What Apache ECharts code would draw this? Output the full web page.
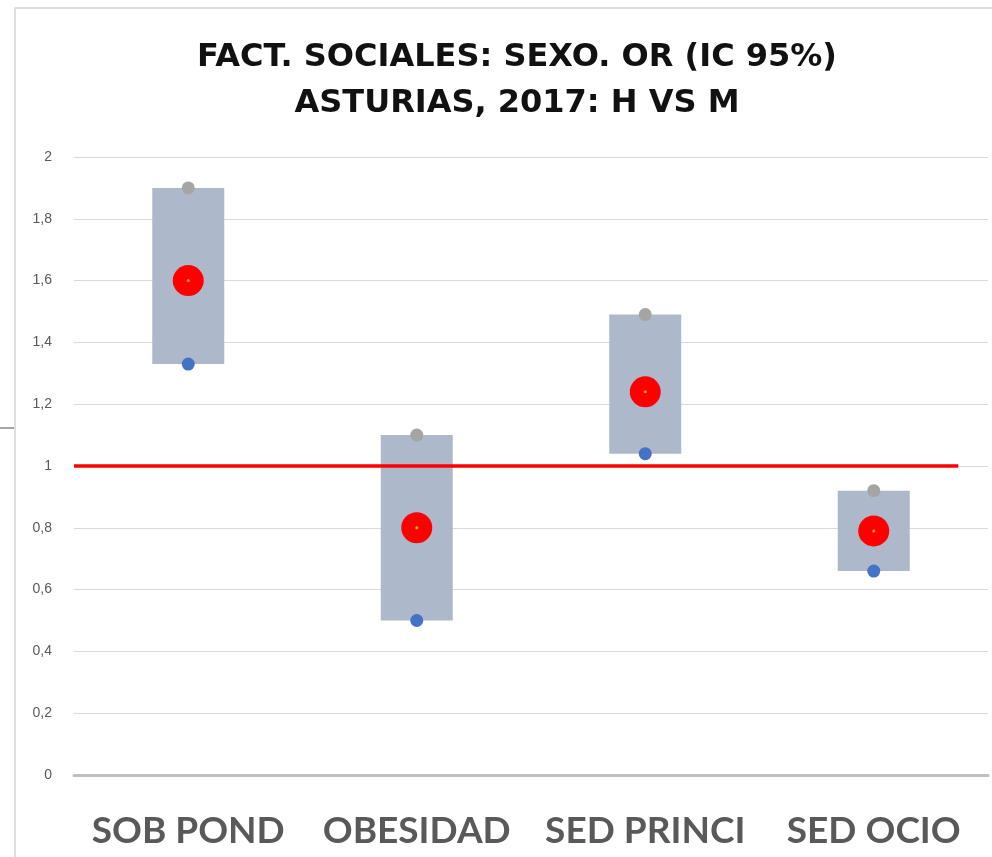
<!DOCTYPE html>
<html>
<head>
<meta charset="utf-8">
<script src="https://cdn.jsdelivr.net/npm/echarts@6/dist/echarts.min.js"></script>
<style>
  html, body { margin: 0; padding: 0; background: #fff; }
  #chart { width: 992px; height: 857px; }
</style>
</head>
<body>
<div id="chart"></div>
<script>
// datos del grafico
var categories = ['SOB POND', 'OBESIDAD', 'SED PRINCI', 'SED OCIO'];
var orValues = [1.60, 0.80, 1.24, 0.79];
var icLow = [1.33, 0.50, 1.04, 0.66];
var icHigh = [1.90, 1.10, 1.49, 0.92];
var refValue = 1;
var refLineEnd = 3.87; // fin de la linea roja (en unidades de categoria)

var rangeData = [];
for (var i = 0; i < categories.length; i++) {
    rangeData.push(+(icHigh[i] - icLow[i]).toFixed(3));
}

var chart = echarts.init(document.getElementById('chart'));
var option = {
    animation: false,
    backgroundColor: '#fff',
    title: {
        text: 'FACT. SOCIALES: SEXO. OR (IC 95%)\nASTURIAS, 2017: H VS M',
        left: 512,
        textAlign: 'center',
        top: 30,
        textStyle: {
            fontFamily: 'DejaVu Sans',
            fontWeight: 'bold',
            fontSize: 32,
            lineHeight: 46,
            color: '#111'
        }
    },
    graphic: [
        {
            type: 'polyline',
            shape: { points: [[15, 857], [15, 8], [992, 8]] },
            style: { stroke: '#d4d4d4', lineWidth: 1.5, fill: null },
            silent: true
        },
        {
            type: 'line',
            shape: { x1: 0, y1: 428, x2: 14, y2: 428 },
            style: { stroke: '#888', lineWidth: 1.5 },
            silent: true
        }
    ],
    grid: { left: 74, right: 4, top: 157, bottom: 82 },
    xAxis: [
        {
            type: 'category',
            data: categories,
            boundaryGap: true,
            axisTick: { show: false },
            axisLine: { show: true, lineStyle: { color: '#bfbfbf', width: 3 } },
            axisLabel: {
                interval: 0,
                margin: 38,
                fontFamily: 'Lato',
                fontWeight: 'bold',
                fontSize: 37,
                color: '#595959'
            }
        },
        {
            type: 'value',
            min: 0,
            max: categories.length,
            show: false
        }
    ],
    yAxis: {
        type: 'value',
        min: 0,
        max: 2,
        interval: 0.2,
        axisLine: { show: false },
        axisTick: { show: false },
        splitLine: { lineStyle: { color: '#d9d9d9', width: 1 } },
        axisLabel: {
            margin: 22,
            fontFamily: 'Liberation Sans',
            fontSize: 14,
            color: '#595959',
            formatter: function (v) {
                return String(+v.toFixed(1)).replace('.', ',');
            }
        }
    },
    series: [
        {
            name: 'base',
            type: 'bar',
            stack: 'ic',
            barWidth: 72,
            itemStyle: { color: 'transparent' },
            data: icLow,
            silent: true
        },
        {
            name: 'IC 95%',
            type: 'bar',
            stack: 'ic',
            barWidth: 72,
            itemStyle: { color: '#adb9ca' },
            data: rangeData
        },
        {
            name: 'Ref',
            type: 'line',
            xAxisIndex: 1,
            data: [[0, refValue], [refLineEnd, refValue]],
            symbol: 'none',
            lineStyle: { color: '#ff0000', width: 3.5 },
            z: 3
        },
        {
            name: 'Superior',
            type: 'scatter',
            data: icHigh,
            symbolSize: 13,
            itemStyle: { color: '#a5a5a5', opacity: 1 },
            z: 4
        },
        {
            name: 'Inferior',
            type: 'scatter',
            data: icLow,
            symbolSize: 13,
            itemStyle: { color: '#4472c4', opacity: 1 },
            z: 4
        },
        {
            name: 'OR',
            type: 'scatter',
            data: orValues,
            symbolSize: 31,
            itemStyle: { color: '#ff0000', opacity: 1 },
            z: 5
        },
        {
            name: 'OR centro',
            type: 'scatter',
            data: orValues,
            symbolSize: 3,
            itemStyle: { color: '#f0a030', opacity: 1 },
            z: 6
        }
    ]
};
chart.setOption(option);
</script>
</body>
</html>
